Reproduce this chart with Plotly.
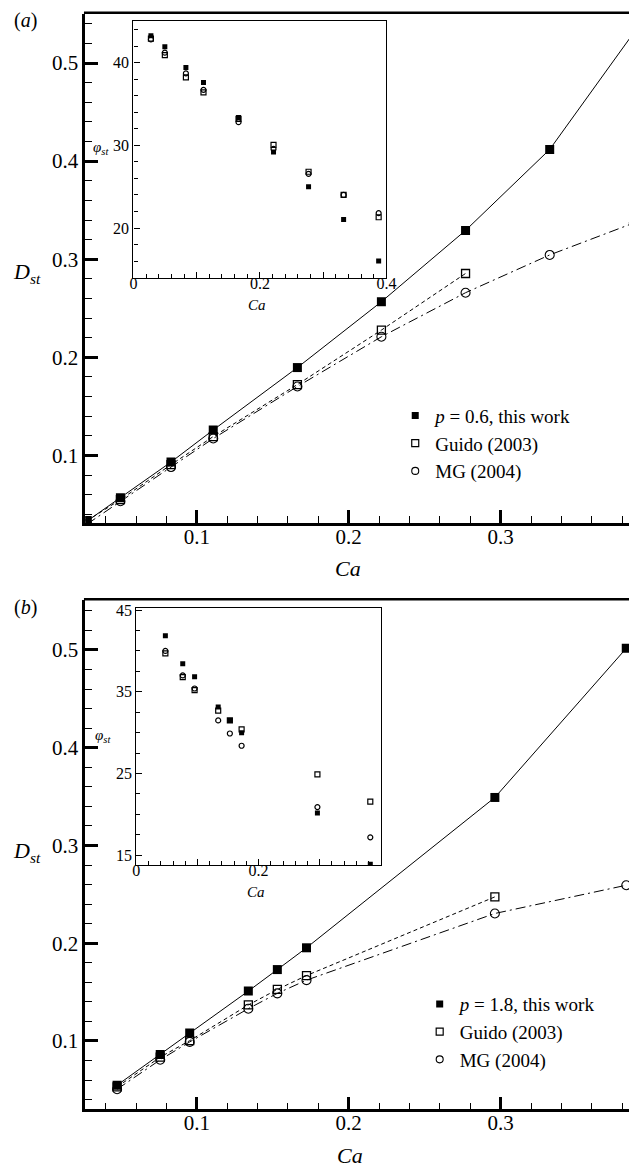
import plotly.graph_objects as go

# ---------------- data ----------------
# (a) p = 0.6
CA_A = [0.0277, 0.0497, 0.0830, 0.1108, 0.1662, 0.2215, 0.2769, 0.3323, 0.3877]
D_A_THIS = [0.0331, 0.0568, 0.0933, 0.1260, 0.1896, 0.2567, 0.3294, 0.4119, 0.5310]
D_A_GUIDO = [0.0335, 0.0550, 0.0906, 0.1193, 0.1723, 0.2278, 0.2855]
D_A_MG = [0.0300, 0.0534, 0.0882, 0.1173, 0.1703, 0.2210, 0.2659, 0.3044, 0.3370]
PHI_A_THIS = [43.24, 41.92, 39.40, 37.60, 33.36, 29.20, 25.00, 21.03, 16.00]
PHI_A_GUIDO = [42.90, 40.90, 38.20, 36.40, 33.20, 30.04, 26.80, 24.00, 21.30]
PHI_A_MG = [42.80, 41.20, 38.70, 36.70, 32.80, 29.56, 26.55, 24.00, 21.80]

# (b) p = 1.8
CA_B = [0.0475, 0.0759, 0.0953, 0.1339, 0.1530, 0.1722, 0.2962, 0.3827]
D_B_THIS = [0.0547, 0.0861, 0.1081, 0.1510, 0.1730, 0.1953, 0.3491, 0.5017]
D_B_GUIDO = [0.0530, 0.0834, 0.1003, 0.1368, 0.1527, 0.1669, 0.2474]
D_B_MG = [0.0506, 0.0807, 0.0990, 0.1330, 0.1487, 0.1622, 0.2304, 0.2593]
PHI_B_THIS = [41.84, 38.43, 36.85, 33.13, 31.50, 30.00, 20.18, 13.90]
PHI_B_GUIDO = [39.70, 36.80, 35.20, 32.70, 31.50, 30.40, 24.89, 21.57]
PHI_B_MG = [40.00, 37.00, 35.40, 31.50, 29.90, 28.40, 20.90, 17.20]

LEG_A = ["<i>p</i> = 0.6, this work", "Guido (2003)", "MG (2004)"]
LEG_B = ["<i>p</i> = 1.8, this work", "Guido (2003)", "MG (2004)"]

# ---------------- layout helpers ----------------
W, H = 639, 1168
FONT = "Liberation Serif"


def px(x):
    return x / W


def py(y):
    return 1 - y / H


fig = go.Figure()

FILLED = dict(symbol="square", size=9, color="black")
OPEN_SQ = dict(symbol="square-open", size=8, color="black", line=dict(width=1.3))
OPEN_CI = dict(symbol="circle-open", size=9, color="black", line=dict(width=1.1))
LINE_SOLID = dict(color="black", width=1)
LINE_DASH = dict(color="black", width=1, dash="4px,3px")
LINE_DASHDOT = dict(color="black", width=1, dash="10px,4px,2px,4px")


def main_traces(xa, ya, ca, d_this, d_guido, d_mg):
    fig.add_trace(go.Scatter(x=ca[:len(d_guido)], y=d_guido, mode="lines+markers",
                             line=LINE_DASH, marker=OPEN_SQ, showlegend=False,
                             xaxis=xa, yaxis=ya))
    fig.add_trace(go.Scatter(x=ca[:len(d_mg)], y=d_mg, mode="lines+markers",
                             line=LINE_DASHDOT, marker=OPEN_CI, showlegend=False,
                             xaxis=xa, yaxis=ya))
    fig.add_trace(go.Scatter(x=ca[:len(d_this)], y=d_this, mode="lines+markers",
                             line=LINE_SOLID, marker=FILLED, showlegend=False,
                             xaxis=xa, yaxis=ya))


def inset_traces(xa, ya, ca, p_this, p_guido, p_mg):
    fig.add_trace(go.Scatter(x=ca, y=p_guido, mode="markers",
                             marker=dict(symbol="square-open", size=5, color="black",
                                         line=dict(width=1.2)),
                             showlegend=False, xaxis=xa, yaxis=ya))
    fig.add_trace(go.Scatter(x=ca, y=p_mg, mode="markers",
                             marker=dict(symbol="circle-open", size=5, color="black",
                                         line=dict(width=1.2)),
                             showlegend=False, xaxis=xa, yaxis=ya))
    fig.add_trace(go.Scatter(x=ca, y=p_this, mode="markers",
                             marker=dict(symbol="square", size=5, color="black"),
                             showlegend=False, xaxis=xa, yaxis=ya))


def legend_traces(names, legend_id, xa, ya):
    for name, mk in zip(names, [dict(symbol="square", size=7, color="black"),
                                dict(symbol="square-open", size=7, color="black",
                                     line=dict(width=1.2)),
                                dict(symbol="circle-open", size=7, color="black",
                                     line=dict(width=1.1))]):
        fig.add_trace(go.Scatter(x=[None], y=[None], mode="markers", marker=mk,
                                 name=name, legend=legend_id, xaxis=xa, yaxis=ya))


main_traces("x", "y", CA_A, D_A_THIS, D_A_GUIDO, D_A_MG)
inset_traces("x2", "y2", CA_A, PHI_A_THIS, PHI_A_GUIDO, PHI_A_MG)
main_traces("x3", "y3", CA_B, D_B_THIS, D_B_GUIDO, D_B_MG)
inset_traces("x4", "y4", CA_B, PHI_B_THIS, PHI_B_GUIDO, PHI_B_MG)
legend_traces(LEG_A, "legend", "x", "y")
legend_traces(LEG_B, "legend2", "x3", "y3")


def main_x(anchor, top, bottom):
    return dict(domain=[px(83), 1], range=[0.0265, 0.3845], anchor=anchor,
                showline=True, linewidth=2.5, linecolor="black", mirror=False,
                ticks="inside", ticklen=13, tickwidth=2.5, tickcolor="black",
                dtick=0.1, tick0=0, tickformat=".1f", showgrid=False, zeroline=False,
                ticklabelstandoff=-7,
                tickfont=dict(family=FONT, size=21, color="black"),
                minor=dict(dtick=0.02, tick0=0, ticks="inside", ticklen=7,
                           tickwidth=1.3, tickcolor="black", showgrid=False))


def main_y(anchor, top, bottom, rng):
    return dict(domain=[py(bottom), py(top)], range=rng, anchor=anchor,
                showline=True, linewidth=2.5, linecolor="black", mirror=False,
                ticks="inside", ticklen=13, tickwidth=2.5, tickcolor="black",
                dtick=0.1, tick0=0, tickformat=".1f", showgrid=False, zeroline=False,
                tickfont=dict(family=FONT, size=21, color="black"),
                minor=dict(dtick=0.02, tick0=0, ticks="inside", ticklen=7,
                           tickwidth=1.3, tickcolor="black", showgrid=False))


def inset_x(anchor, left, right, rng):
    return dict(domain=[px(left), px(right)], range=rng, anchor=anchor,
                showline=True, linewidth=1.3, linecolor="black", mirror=True,
                ticks="inside", ticklen=6, tickwidth=1.3, tickcolor="black",
                tickvals=[0, 0.1, 0.2, 0.3, 0.4], ticktext=["0", "", "0.2", "", "0.4"],
                showgrid=False, zeroline=False, ticklabelstandoff=-9,
                tickfont=dict(family=FONT, size=16, color="black"),
                minor=dict(dtick=0.02, tick0=0, ticks="inside", ticklen=4,
                           tickwidth=1, tickcolor="black", showgrid=False))


def inset_y(anchor, top, bottom, rng, dtick, tick0, minor):
    return dict(domain=[py(bottom), py(top)], range=rng, anchor=anchor,
                showline=True, linewidth=1.3, linecolor="black", mirror=True,
                ticks="inside", ticklen=6, tickwidth=1.3, tickcolor="black",
                dtick=dtick, tick0=tick0, showgrid=False, zeroline=False,
                tickfont=dict(family=FONT, size=16, color="black"),
                minor=dict(dtick=minor, tick0=tick0, ticks="inside", ticklen=4,
                           tickwidth=1, tickcolor="black", showgrid=False))


A_TOP, A_BOT = 7, 519
B_TOP, B_BOT = 597, 1109

fig.update_layout(
    width=W, height=H,
    margin=dict(l=0, r=0, t=0, b=0),
    paper_bgcolor="white", plot_bgcolor="white",
    font=dict(family=FONT, color="black"),
    xaxis=main_x("y", A_TOP, A_BOT),
    yaxis=main_y("x", A_TOP, A_BOT, [0.0313, 0.5500]),
    xaxis2=inset_x("y2", 132.3, 391, [0, 0.4]),
    yaxis2=inset_y("x2", 14.3, 272.3, [14.0, 45.0], 10, 0, 2),
    xaxis3=main_x("y3", B_TOP, B_BOT),
    yaxis3=main_y("x3", B_TOP, B_BOT, [0.0300, 0.5507]),
    xaxis4=inset_x("y4", 135.3, 385, [0, 0.3995]),
    yaxis4=inset_y("x4", 605, 863.3, [13.8, 45.2], 10, 5, 2.5),
    legend=dict(x=px(400), y=py(392), xanchor="left", yanchor="top",
                bgcolor="rgba(0,0,0,0)", borderwidth=0,
                font=dict(family=FONT, size=19, color="black"),
                itemwidth=30, tracegroupgap=0),
    legend2=dict(x=px(425), y=py(984), xanchor="left", yanchor="top",
                 bgcolor="rgba(0,0,0,0)", borderwidth=0,
                 font=dict(family=FONT, size=19, color="black"),
                 itemwidth=30, tracegroupgap=0),
)

# top frame of the main panels
for top in (A_TOP, B_TOP):
    fig.add_shape(type="line", xref="paper", yref="paper",
                  x0=px(83) - 1.25 / W, x1=1, y0=py(top) + 1.25 / H, y1=py(top) + 1.25 / H,
                  line=dict(color="black", width=2.5))


def label(text, x, y, size, xanchor="center"):
    fig.add_annotation(text=text, x=px(x), y=py(y), xref="paper", yref="paper",
                       showarrow=False, xanchor=xanchor, yanchor="middle",
                       font=dict(family=FONT, size=size, color="black"))


label("(<i>a</i>)", 22, 14, 20)
label("(<i>b</i>)", 22, 604, 20)
label("<i>D</i><sub><i>st</i></sub>", 24, 268, 22)
label("<i>D</i><sub><i>st</i></sub>", 24, 850, 22)
label("<i>Ca</i>", 352, 565, 22)
label("<i>Ca</i>", 354, 1155, 22)
label("<i>φ</i><sub><i>st</i></sub>", 99, 142, 15)
label("<i>φ</i><sub><i>st</i></sub>", 101, 733, 15)
label("<i>Ca</i>", 259, 300, 15)
label("<i>Ca</i>", 258, 890, 15)

fig.write_html("out.html")
